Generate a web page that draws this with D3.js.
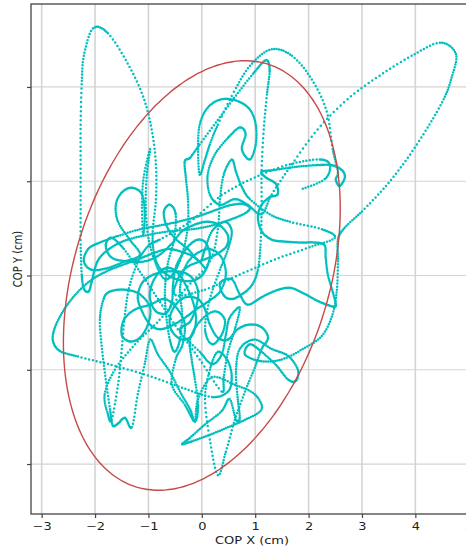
<!DOCTYPE html>
<html>
<head>
<meta charset="utf-8">
<script src="https://cdn.jsdelivr.net/npm/d3@7"></script>
<style>
  html, body { margin: 0; padding: 0; background: #fff; overflow: hidden; }
  text { font-family: "DejaVu Sans", sans-serif; }
</style>
</head>
<body>
<svg id="chart" width="466" height="549"></svg>
<script>
// Centre-of-pressure trace, sampled at a fixed rate (cm, mean removed)
const copTrace = [
  // drift left, wide lobe on the left, return along the bottom
  [0.06,0.08],[-0.13,0.19],[-0.37,0.25],[-0.64,0.28],[-0.94,0.23],[-1.20,0.17],[-1.50,0.11],[-1.80,0.04],
  [-2.10,-0.06],[-2.38,-0.21],[-2.60,-0.38],[-2.75,-0.55],[-2.79,-0.69],[-2.66,-0.80],[-2.32,-0.86],
  [-1.69,-0.95],[-1.01,-1.06],[-0.37,-1.19],[0.19,-1.29],[0.49,-1.23],[0.56,-1.08],[0.49,-0.91],[0.30,-0.81],
  [0.15,-1.00],[0.06,-1.31],[0.15,-1.74],[0.30,-2.12],[0.45,-1.87],[0.62,-1.53],[0.81,-1.23],[0.99,-0.98],
  [1.12,-0.78],[1.24,-0.66],[1.12,-0.55],[0.90,-0.52],
  // central sway
  [0.67,-0.57],[0.49,-0.68],[0.30,-0.66],[0.15,-0.52],[0.06,-0.36],[-0.07,-0.25],[-0.30,-0.23],[-0.49,-0.31],
  [-0.60,-0.45],[-0.56,-0.59],[-0.37,-0.68],[-0.19,-0.64],[-0.11,-0.49],[-0.15,-0.31],[-0.26,-0.15],[-0.41,0.00],
  [-0.60,0.08],[-0.79,0.04],[-0.94,-0.10],[-0.97,-0.25],[-0.86,-0.38],[-0.67,-0.40],[-0.56,-0.28],[-0.54,-0.10],
  [-0.49,0.08],[-0.37,0.22],[-0.22,0.33],[-0.07,0.38],[0.07,0.35],[0.15,0.22],[0.09,0.08],[-0.04,-0.02],
  // forward-left excursion and the long lateral sweeps
  [-0.26,-0.06],[-0.56,-0.02],[-0.79,0.08],[-0.90,0.25],[-0.92,0.47],[-0.86,0.81],[-0.86,1.18],[-0.94,1.55],
  [-1.10,1.90],[-1.39,2.25],[-1.76,2.57],[-2.04,2.62],[-2.21,2.33],[-2.25,2.03],[-2.27,1.60],
  [-2.27,1.18],[-2.27,0.75],[-2.27,0.33],[-2.25,0.01],[-2.21,-0.14],[-2.12,-0.17],[-2.06,-0.06],[-2.00,0.08],
  [-1.91,0.19],[-1.69,0.30],[-1.39,0.38],[-1.01,0.43],[-0.60,0.47],[-0.19,0.49],[0.19,0.53],[0.52,0.59],
  [0.81,0.66],[0.90,0.72],[0.75,0.76],[0.49,0.74],[0.19,0.68],[-0.11,0.62],[-0.45,0.57],[-0.79,0.53],
  [-1.16,0.49],[-1.57,0.42],[-1.91,0.35],[-2.13,0.28],[-2.21,0.15],[-2.06,0.06],[-1.76,0.08],[-1.44,0.15],
  [-1.16,0.22],[-1.35,0.38],[-1.57,0.57],[-1.61,0.75],[-1.50,0.88],[-1.31,0.93],[-1.12,0.86],[-1.07,0.65],
  [-1.10,0.43],[-1.12,0.75],[-1.09,1.04],[-0.97,1.34],[-1.03,1.07],[-1.05,0.75],[-1.01,0.43],[-0.88,0.15],
  [-0.69,-0.04],
  // forward excursion through the upper centre
  [-0.49,0.06],[-0.34,0.28],[-0.26,0.54],[-0.26,0.81],[-0.30,1.04],[-0.32,1.21],[-0.22,1.25],[-0.04,1.39],
  [0.30,1.65],[0.64,1.91],[0.96,2.14],[1.16,2.27],[1.24,2.27],[1.27,2.16],[1.22,1.92],[1.16,1.55],
  [1.12,1.12],[1.12,0.70],[1.10,0.33],[1.05,0.06],[0.94,-0.10],[0.75,-0.20],[0.56,-0.25],[0.41,-0.21],
  [0.34,-0.08],
  // right-hand loops
  [0.56,-0.04],[0.71,-0.20],[0.86,-0.31],[1.12,-0.23],[1.39,-0.16],[1.65,-0.13],[1.91,-0.19],[2.17,-0.27],
  [2.40,-0.32],[2.51,-0.32],[2.45,-0.17],[2.36,0.01],[2.32,0.19],[2.30,0.32],[2.12,0.35],[1.84,0.35],
  [1.55,0.36],[1.31,0.38],[1.12,0.47],[1.05,0.62],[1.12,0.75],[1.27,0.83],[1.42,0.86],[1.39,0.97],
  [1.20,1.04],[1.12,1.10],[1.37,1.12],[1.74,1.15],[2.12,1.17],[2.43,1.17],[2.62,1.12],[2.68,1.04],
  [2.58,0.95],[2.51,1.02],[2.55,1.10],[2.45,1.34],[2.34,1.74],[2.06,2.08],[1.69,2.33],[1.31,2.40],
  [0.94,2.25],[0.64,1.99],[0.30,1.60],[0.15,1.39],[0.06,1.23],[-0.04,1.07],
  [-0.07,1.34],[-0.04,1.60],[0.11,1.78],[0.37,1.87],[0.67,1.85],[0.90,1.76],[1.01,1.60],[1.01,1.39],
  [0.90,1.23],[0.75,1.34],[0.82,1.50],[0.71,1.57],[0.49,1.46],[0.24,1.28],[0.11,1.07],[0.15,0.86],
  [0.34,0.75],[0.62,0.81],[0.86,0.75],[1.12,0.65],
  // long forward-right excursion
  [1.31,0.86],[1.69,1.18],[2.17,1.55],[2.73,1.87],[3.33,2.12],[3.93,2.33],[4.46,2.47],[4.76,2.35],
  [4.68,2.10],[4.53,1.87],[4.23,1.57],[3.86,1.25],[3.45,0.95],[3.00,0.68],[2.68,0.51],
  [2.55,0.38],[2.55,0.15],[2.53,-0.15],[2.45,-0.41],[2.25,-0.64],[1.89,-0.78],[1.50,-0.89],[1.12,-0.91],
  [0.81,-0.84],
  // lower right loop
  [0.90,-0.73],[1.12,-0.81],[1.39,-0.95],[1.61,-1.10],[1.76,-1.12],[1.80,-1.00],[1.61,-0.85],[1.31,-0.78],
  [0.99,-0.68],
  // backward sway
  [0.71,-0.78],[0.64,-1.02],[0.67,-1.29],[0.71,-1.51],[0.64,-1.53],[0.52,-1.31],[0.37,-1.44],[0.06,-1.58],
  [-0.22,-1.72],[-0.37,-1.79],[-0.19,-1.76],[0.15,-1.69],[0.49,-1.61],[0.81,-1.53],[1.12,-1.42],[0.99,-1.26],
  [0.62,-1.16],[0.19,-1.08],[-0.07,-1.31],[-0.13,-1.55],[-0.22,-1.42],[-0.41,-1.23],[-0.60,-1.02],[-0.82,-0.84],
  [-0.97,-0.68],
  // backward-left
  [-1.07,-0.94],[-1.20,-1.26],[-1.31,-1.61],[-1.44,-1.51],[-1.57,-1.57],[-1.67,-1.59],[-1.72,-1.42],[-1.80,-1.10],
  [-1.87,-0.78],[-1.91,-0.47],[-1.84,-0.25],
  // settling back to the centre
  [-1.72,-0.17],[-1.44,-0.15],[-1.16,-0.20],[-0.97,-0.34],[-1.01,-0.52],[-1.16,-0.66],[-1.35,-0.70],[-1.50,-0.63],
  [-1.46,-0.47],[-1.25,-0.36],[-0.97,-0.31],[-0.69,-0.25],[-0.45,-0.36],[-0.32,-0.52],[-0.36,-0.73],[-0.49,-0.89],
  [-0.56,-1.16],[-0.32,-1.37],[-0.13,-1.55],[-0.07,-1.37],[-0.13,-1.10],[-0.19,-0.89],[-0.22,-0.68],[-0.04,-0.49],
  [0.24,-0.38],[0.43,-0.47],[0.37,-0.63],[0.19,-0.73],[0.06,-0.57],[0.15,-0.25],[0.34,0.06],[0.49,0.28],
  [0.56,0.47],[0.43,0.57],[0.19,0.47],[0.06,0.28],[-0.04,0.15],
  // late central sway
  [-0.26,0.28],[-0.51,0.40],[-0.67,0.54],[-0.71,0.68],[-0.60,0.75],[-0.49,0.65],[-0.52,0.38],[-0.64,0.12],
  [-0.69,-0.15],[-0.67,-0.41],[-0.60,-0.68],[-0.51,-0.81],[-0.41,-0.68],[-0.37,-0.41],[-0.41,-0.15],[-0.32,0.08],
  [-0.13,0.22],[0.15,0.28],[0.37,0.19],[0.45,0.01],[0.34,-0.17],[0.11,-0.28],[-0.11,-0.36],[-0.32,-0.45],
  [-0.56,-0.53],[-0.79,-0.57],[-0.97,-0.52],[-1.12,-0.38],[-1.20,-0.23],[-1.12,-0.08],[-0.94,0.00],[-0.69,0.04],
  [-0.41,0.04],[-0.19,-0.02],[-0.07,-0.17],[-0.11,-0.34],[-0.22,-0.49],[-0.41,-0.59],[-0.04,-0.81],[0.19,-0.94],
  [0.37,-0.84],[0.45,-0.63],[0.52,-0.45],[0.71,-0.34],[0.62,-0.57],[0.49,-0.81],[0.41,-1.08],[0.37,-1.23],
  [-0.04,-0.89],[-0.45,-0.57],[-0.82,-0.25],[-1.16,0.04],[-1.46,0.28],[-1.69,0.40],[-1.80,0.32],[-1.69,0.19],
  [-1.39,0.15],[-1.07,0.15],[-0.79,0.22],[-0.56,0.34],[-0.37,0.47],[-0.13,0.54],[0.11,0.57],[0.34,0.53],
  [0.49,0.42],[0.45,0.30],[0.22,0.21],[-0.04,0.15],[-0.30,0.08],[-0.45,-0.04],[-0.49,-0.21],
  [0.06,-0.15],[0.71,0.01],[1.37,0.17],[2.02,0.30],[2.49,0.40],[2.25,0.49],[1.65,0.57],[1.27,0.65],
  [0.90,0.81],[0.75,0.94],[0.64,1.10],[0.56,1.23],[0.41,1.07],[0.34,0.81],[0.30,0.49],[0.15,0.15],
  // final quick backward-left swing and return
  [-0.32,-0.15],[-0.79,-0.47],[-1.25,-0.73],[-1.63,-1.00],[-1.82,-1.26],[-1.76,-1.47],[-1.69,-1.53],
  [-1.57,-1.16],[-1.50,-0.78],[-1.44,-0.41],[-1.35,-0.10],[-1.16,0.19],[-0.97,0.33],[-0.79,0.38],
  [-0.22,0.57],[0.37,0.85],[0.99,1.04],[1.65,1.18],[2.21,1.23],[2.40,1.17],[2.30,1.02],[1.84,0.91]
];

// Sway-area ellipse (cm)
const ellipseCenter = [0, 0];
const ellipseSemiAxes = [2.82, 1.99];
const ellipseAngleDeg = 33.7;

const xTicks = [-3, -2, -1, 0, 1, 2, 3, 4, 5];
const yTicks = [-2, -1, 0, 1, 2];

const xLabel = "COP X (cm)";
const yLabel = "COP Y (cm)";

// samples drawn between two consecutive trace points
const samplesPerStep = 9;

const plot = { left: 31, right: 473, top: 4, bottom: 514 };
const stretch = 1.3;   // horizontal stretch of the whole figure

const svg = d3.select("#chart");

const x = d3.scaleLinear().domain([-3.2, 5.08]).range([plot.left, plot.right]);
const y = d3.scaleLinear().domain([-2.53, 2.88]).range([plot.bottom, plot.top]);

svg.append("defs").append("clipPath").attr("id", "plotClip")
  .append("rect")
  .attr("x", plot.left).attr("y", plot.top)
  .attr("width", plot.right - plot.left).attr("height", plot.bottom - plot.top);

// grid
const grid = svg.append("g");
grid.selectAll("line.vx").data(xTicks).join("line")
  .attr("x1", d => x(d)).attr("x2", d => x(d))
  .attr("y1", plot.top).attr("y2", plot.bottom)
  .attr("stroke", "#d4d4d4").attr("stroke-width", 1.6);
grid.selectAll("line.hy").data(yTicks).join("line")
  .attr("x1", plot.left).attr("x2", plot.right)
  .attr("y1", d => y(d)).attr("y2", d => y(d))
  .attr("stroke", "#d4d4d4").attr("stroke-width", 1.2);

// trajectory, one sample dot at each fixed time step
const traceG = svg.append("g").attr("clip-path", "url(#plotClip)");
const pts = copTrace.map(d => [x(d[0]), y(d[1])]);
for (let i = 0; i < pts.length - 1; i++) {
  const p0 = pts[Math.max(i - 1, 0)], p1 = pts[i], p2 = pts[i + 1], p3 = pts[Math.min(i + 2, pts.length - 1)];
  const c1 = [p1[0] + (p2[0] - p0[0]) / 6, p1[1] + (p2[1] - p0[1]) / 6];
  const c2 = [p2[0] - (p3[0] - p1[0]) / 6, p2[1] - (p3[1] - p1[1]) / 6];
  const seg = d3.path();
  seg.moveTo(p1[0], p1[1]);
  seg.bezierCurveTo(c1[0], c1[1], c2[0], c2[1], p2[0], p2[1]);
  const el = traceG.append("path")
    .attr("d", seg.toString())
    .attr("fill", "none")
    .attr("stroke", "#00bfbf")
    .attr("stroke-width", 2.5)
    .attr("stroke-linecap", "round");
  const len = el.node().getTotalLength();
  el.attr("stroke-dasharray", `0 ${Math.max(len / samplesPerStep, 0.01)}`);
}

// ellipse
const phi = ellipseAngleDeg * Math.PI / 180;
const ellPts = d3.range(0, 360, 2).map(t => {
  const a = t * Math.PI / 180;
  const ex = ellipseSemiAxes[0] * Math.cos(a), ey = ellipseSemiAxes[1] * Math.sin(a);
  return [ellipseCenter[0] + ex * Math.cos(phi) - ey * Math.sin(phi),
          ellipseCenter[1] + ex * Math.sin(phi) + ey * Math.cos(phi)];
});
svg.append("path")
  .attr("d", d3.line().x(d => x(d[0])).y(d => y(d[1])).curve(d3.curveCardinalClosed)(ellPts))
  .attr("fill", "none")
  .attr("stroke", "#c64a48")
  .attr("stroke-width", 1.4);

// axes
const fmt = d => d < 0 ? "\u2212" + Math.abs(d) : String(d);
const xAxis = svg.append("g")
  .attr("transform", `translate(0,${plot.bottom})`)
  .call(d3.axisBottom(x).tickValues(xTicks).tickFormat(fmt).tickSize(4).tickPadding(4.5));
xAxis.select(".domain").remove();
xAxis.selectAll(".tick line").attr("stroke", "#444").attr("stroke-width", 1.2);
xAxis.selectAll(".tick text")
  .attr("fill", "#222").attr("font-size", 10).attr("font-family", "DejaVu Sans")
  .attr("transform", `scale(${stretch},1)`);

const yAxis = svg.append("g")
  .attr("transform", `translate(${plot.left},0)`)
  .call(d3.axisLeft(y).tickValues(yTicks).tickFormat("").tickSize(4));
yAxis.select(".domain").remove();
yAxis.selectAll(".tick line").attr("stroke", "#444").attr("stroke-width", 1.2);

// frame
svg.append("rect")
  .attr("x", plot.left).attr("y", plot.top)
  .attr("width", plot.right - plot.left).attr("height", plot.bottom - plot.top)
  .attr("fill", "none").attr("stroke", "#444").attr("stroke-width", 1.3);

// axis titles
svg.append("text")
  .attr("transform", `translate(${(plot.left + plot.right) / 2},543.5) scale(${stretch},1)`)
  .attr("text-anchor", "middle").attr("font-size", 10).attr("fill", "#222")
  .text(xLabel);
svg.append("text")
  .attr("transform", `translate(21.5,${(plot.top + plot.bottom) / 2}) rotate(-90) scale(1,${stretch})`)
  .attr("text-anchor", "middle").attr("font-size", 10).attr("fill", "#222")
  .text(yLabel);
</script>
</body>
</html>
